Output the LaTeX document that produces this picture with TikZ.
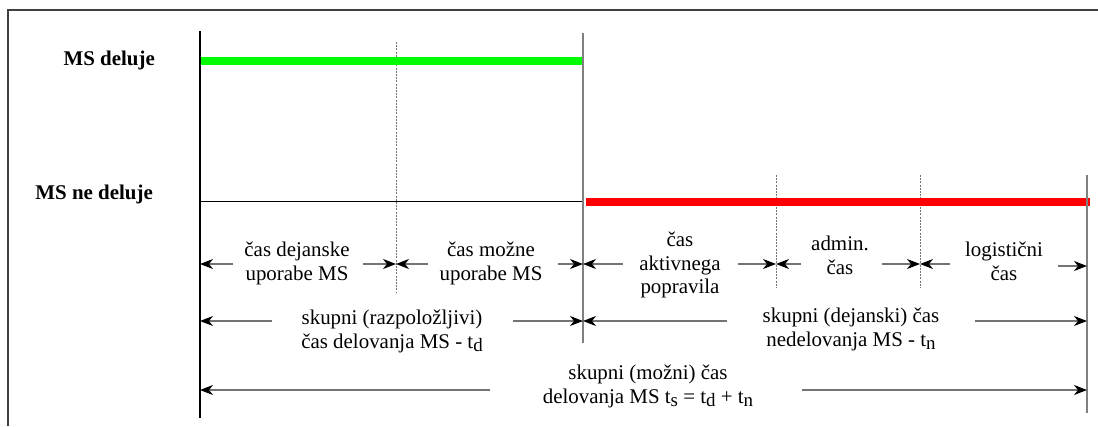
\documentclass[tikz,border=0pt]{standalone}
\usepackage{fontspec}
\setmainfont{Liberation Serif}
\usetikzlibrary{arrows.meta}
\newcommand\lowsub[1]{\raisebox{-0.4ex}{\fontsize{19}{19}\selectfont #1}}
\tikzset{
  frameline/.style={draw=black!75, line width=1.4bp},
  axisline/.style={draw=black, line width=2bp},
  sepline/.style={draw=black!50, line width=2bp},
  dashline/.style={draw=black!55, line width=0.7bp, dash pattern=on 2bp off 1.2bp},
  stateline/.style={draw=black, line width=1bp},
  upbar/.style={draw={rgb,255:red,0;green,255;blue,0}, line width=8bp},
  downbar/.style={draw={rgb,255:red,255;green,0;blue,0}, line width=7.5bp},
  dim/.style={draw=black!55, line width=1.1bp, -{Stealth[length=13bp,width=10bp,inset=4bp,color=black]}},
  lbl/.style={inner sep=0pt, align=center, font=\fontsize{21}{24}\selectfont},
  state/.style={inner sep=0pt, anchor=east, font=\fontsize{21}{24}\selectfont\bfseries},
}
\begin{document}
\begin{tikzpicture}[x=1bp,y=-1bp]
\useasboundingbox (0,0) rectangle (1098,426);
% frame (top and left edges visible)
\draw[frameline] (8,426) -- (8,10) -- (1098,10);
% state labels
\node[state] (up) at (155,60) {MS deluje};
\node[state] (down) at (153,194) {MS ne deluje};
% time marks
\coordinate (x0t) at (200,31);  \coordinate (x0b) at (200,418);
\coordinate (x1t) at (396,42);  \coordinate (x1b) at (396,292);
\coordinate (x2t) at (583,33);  \coordinate (x2b) at (583,343);
\coordinate (x3t) at (776,175); \coordinate (x3b) at (776,288);
\coordinate (x4t) at (920,175); \coordinate (x4b) at (920,288);
\coordinate (x5t) at (1087,175);\coordinate (x5b) at (1087,413);
\draw[dashline] (x1t) -- (x1b);
\draw[dashline] (x3t) -- (x3b);
\draw[dashline] (x4t) -- (x4b);
\draw[stateline] (200,201) -- (583,201);
\draw[upbar] (200,61) -- (582,61);
\draw[downbar] (586,202) -- (1090,202);
\draw[axisline] (x0t) -- (x0b);
\draw[sepline] (x2t) -- (x2b);
\draw[sepline] (x5t) -- (x5b);
% row 1 labels
\node[lbl] (a) at (297,263) {čas dejanske\\uporabe MS};
\node[lbl] (b) at (491,263) {čas možne\\uporabe MS};
\node[lbl] (c) at (680,265) {čas\\aktivnega\\popravila};
\node[lbl] (d) at (840,255) {admin.\\čas};
\node[lbl] (e) at (1004,261) {logistični\\čas};
% row 1 arrows
\coordinate (a0) at (200,264); \coordinate (a1) at (396,264);
\coordinate (a2) at (583,264); \coordinate (a3) at (776,264);
\coordinate (a4) at (920,264); \coordinate (a5) at (1087,266);
\draw[dim] (233,264) -- (a0);  \draw[dim] (363,264) -- (a1);
\draw[dim] (428,264) -- (a1);  \draw[dim] (558,264) -- (a2);
\draw[dim] (623,264) -- (a2);  \draw[dim] (738,264) -- (a3);
\draw[dim] (801,264) -- (a3);  \draw[dim] (882,264) -- (a4);
\draw[dim] (950,264) -- (a4);  \draw[dim] (1058,266) -- (a5);
% row 2
\node[lbl] (f) at (392,331) {skupni (razpoložljivi)\\čas delovanja MS - t\lowsub{d}};
\node[lbl] (g) at (851,329) {skupni (dejanski) čas\\nedelovanja MS - t\lowsub{n}};
\coordinate (b0) at (200,321); \coordinate (b1) at (583,321); \coordinate (b2) at (1087,321);
\draw[dim] (272,321) -- (b0);  \draw[dim] (513,321) -- (b1);
\draw[dim] (727,321) -- (b1);  \draw[dim] (975,321) -- (b2);
% row 3
\node[lbl] (h) at (648,386) {skupni (možni) čas\\delovanja MS t\lowsub{s} = t\lowsub{d} + t\lowsub{n}};
\coordinate (c0) at (200,390); \coordinate (c1) at (1087,390);
\draw[dim] (490,390) -- (c0);  \draw[dim] (802,390) -- (c1);
\end{tikzpicture}
\end{document}
